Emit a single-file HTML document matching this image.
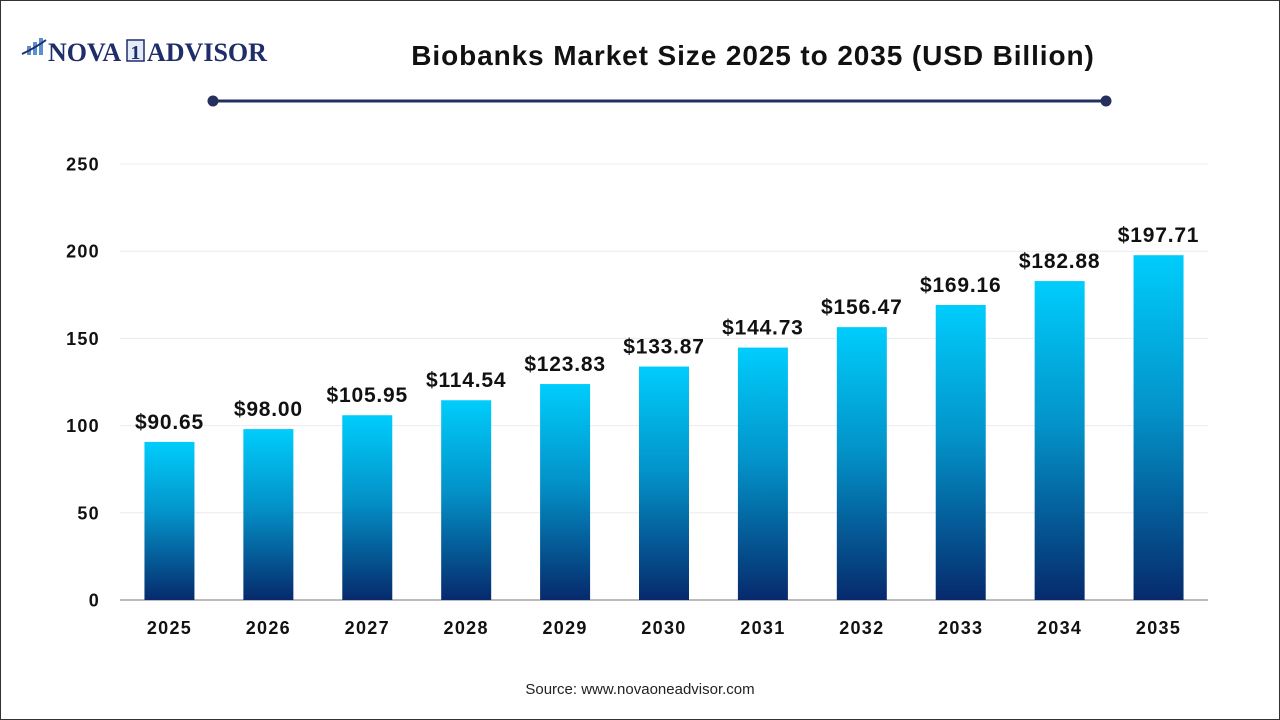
<!DOCTYPE html>
<html><head><meta charset="utf-8"><style>
body{margin:0;width:1280px;height:720px;overflow:hidden;background:#fff;font-family:"Liberation Sans",Arial,sans-serif}
#frame{position:absolute;left:0;top:0;width:1278px;height:718px;border:1px solid #333;}
</style></head><body>
<div id="frame"></div>
<svg width="1280" height="720" style="position:absolute;left:0;top:0" id="chart">
<defs><linearGradient id="g" x1="0" y1="0" x2="0" y2="1">
<stop offset="0" stop-color="#00cdfc"/><stop offset="0.45" stop-color="#0393c9"/><stop offset="1" stop-color="#062a6c"/></linearGradient></defs>
<g>
<rect x="27" y="46" width="4" height="9" fill="#5b8fd0"/><rect x="33" y="42" width="4" height="13" fill="#5b8fd0"/><rect x="39" y="38" width="4" height="17" fill="#5b8fd0"/>
<path d="M22 54 Q35 48 46 40" stroke="#1f2d6b" stroke-width="2" fill="none"/>
<text x="48" y="61" font-family="Liberation Serif,serif" font-weight="bold" font-size="26" fill="#1f2d6b">NOVA</text>
<rect x="127" y="40" width="17" height="21" fill="#e3ecf7" stroke="#1f2d6b" stroke-width="1.5"/>
<text x="135.5" y="59" text-anchor="middle" font-family="Liberation Serif,serif" font-weight="bold" font-size="20" fill="#1f2d6b">1</text>
<text x="147" y="61" font-family="Liberation Serif,serif" font-weight="bold" font-size="26" fill="#1f2d6b">ADVISOR</text>
</g>
<text x="753" y="65" text-anchor="middle" font-weight="bold" font-size="28" letter-spacing="0.9" fill="#111">Biobanks Market Size 2025 to 2035 (USD Billion)</text>
<line x1="213" y1="101" x2="1106" y2="101" stroke="#26305e" stroke-width="3"/>
<circle cx="213" cy="101" r="5.5" fill="#26305e"/><circle cx="1106" cy="101" r="5.5" fill="#26305e"/>
<g id="grid"></g><g id="bars"></g>
<text x="640" y="694" text-anchor="middle" font-size="15" fill="#222">Source: www.novaoneadvisor.com</text>
</svg>
<script>
const categories=["2025","2026","2027","2028","2029","2030","2031","2032","2033","2034","2035"];
const values=[90.65,98.00,105.95,114.54,123.83,133.87,144.73,156.47,169.16,182.88,197.71];
const labels=["$90.65","$98.00","$105.95","$114.54","$123.83","$133.87","$144.73","$156.47","$169.16","$182.88","$197.71"];
const yTicks=[0,50,100,150,200,250];
const NS="http://www.w3.org/2000/svg";
const y0=600,yTop=164,maxV=250,xL=120,xR=1208;
const y=v=>y0-(v/maxV)*(y0-yTop);
const step=(xR-xL)/categories.length;
const xc=i=>xL+step*(i+0.5);
function mk(t,a,p){const e=document.createElementNS(NS,t);for(const k in a)e.setAttribute(k,a[k]);p.appendChild(e);return e;}
const grid=document.getElementById('grid'),bars=document.getElementById('bars');
yTicks.forEach(t=>{
 if(t>0){const l=mk('line',{x1:xL,x2:xR,y1:y(t),y2:y(t),stroke:'#ececec','stroke-width':1},grid);
 
 }
 const tx=mk('text',{x:100,y:y(t)+6.5,'text-anchor':'end','font-size':18,'letter-spacing':1.3,'font-weight':'bold',fill:'#111'},grid);tx.textContent=t;
 
 
});
const ax=mk('line',{x1:xL,x2:xR,y1:y0,y2:y0,stroke:'#bbb','stroke-width':2},grid);


categories.forEach((c,i)=>{
 const w=50;
 const r=mk('rect',{x:xc(i)-w/2,y:y(values[i]),width:w,height:y0-y(values[i]),fill:'url(#g)'},bars);
 
 
 const v=mk('text',{x:xc(i),y:y(values[i])-13,'text-anchor':'middle','font-size':21,'letter-spacing':0.8,'font-weight':'bold',fill:'#111'},bars);v.textContent=labels[i];
 
 
 const xt=mk('text',{x:xc(i),y:634,'text-anchor':'middle','font-size':18,'letter-spacing':1.3,'font-weight':'bold',fill:'#111'},bars);xt.textContent=c;
 
 
});
</script>
</body></html>
